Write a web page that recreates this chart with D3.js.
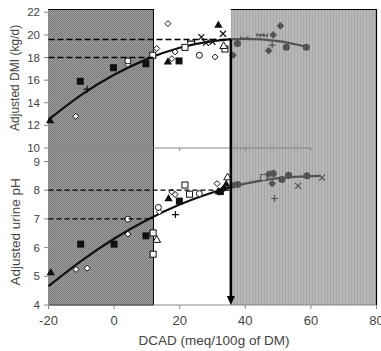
<!DOCTYPE html>
<html><head><meta charset="utf-8">
<script src="https://cdn.jsdelivr.net/npm/d3@7"></script>
<style>body{margin:0;background:#fff}svg{display:block;font-family:"Liberation Sans",Arial,sans-serif}</style>
</head><body><svg id="c" width="381" height="351"></svg>
<script>
// ---------- data ----------
const xTicks = [-20, 0, 20, 40, 60, 80];
const dmiTicks = [10, 12, 14, 16, 18, 20, 22];
const phTicks = [4, 5, 6, 7, 8, 9];
const xTopTicks = [0, 20, 40, 60];

// fitted curves
const dmiCurve = [[-20,12.5],[-10,14.69],[0,16.47],[10,17.86],[20,18.86],[30,19.45],[40,19.65],[50,19.45],[58,19.0]];
const phCurve = [[-20,4.66],[-10,5.54],[0,6.31],[10,6.96],[20,7.50],[30,7.92],[40,8.23],[50,8.42],[63,8.5]];

// reference levels
const dmiLevels = [[19.6, 35.6],[18.0, 12]];
const phLevels = [[8.0, 35.6],[7.0, 12]];
const zoneLow = [-20, 12];
const zoneHigh = [35.6, 80];

// scatter: top panel (DCAD, DMI)
const dmiTriF = [[-19.5,12.4],[16.4,17.6],[31.8,20.85]];
const dmiDiaO = [[-11.7,12.8],[4.2,17.4],[16.4,21.0],[17.6,17.9],[13.0,18.8],[18.6,18.5],[30.8,18.05]];
const dmiSqF = [[-10.3,15.9],[-0.2,17.1],[9.7,17.45],[19.8,17.7]];
const dmiPlus = [[-8.2,15.2],[48.2,19.1]];
const dmiCirO = [[4.2,17.7],[26,18.2]];
const dmiSqO = [[11.8,18.2],[21.6,18.9],[33.8,18.75]];
const dmiCross = [[26.6,19.8],[33.2,20.1],[28,19.3],[30,19.4]];
const dmiTriO = [[33.4,19.0]];
const dmiDash = [[39.7,19.7],[44.6,20.0],[45.6,19.95],[23.5,19.45]];
const dmiDiaF = [[48.5,20.0],[50.7,20.8],[47.1,18.6],[36.3,18.2]];
const dmiCirF = [[37.6,19.25],[52.5,18.9],[58.6,18.9]];

// scatter: bottom panel (DCAD, pH)
const phTriF = [[-19.3,5.12],[16.6,7.7],[31.9,7.94],[34.2,8.2]];
const phDiaO = [[-11.6,5.24],[-8.2,5.28],[4.2,6.47],[13.8,7.25],[17.6,7.94],[18.6,7.85],[31.4,8.23]];
const phSqF = [[-10.2,6.12],[0,6.12],[9.7,6.41],[19.9,7.62],[32.4,7.95]];
const phCirO = [[4.2,6.99],[13.5,7.4],[26,7.88]];
const phSqO = [[11.9,6.51],[11.9,5.77],[21.6,8.18],[23,7.86],[45.6,8.44]];
const phTriO = [[13.0,6.26],[34.6,8.44]];
const phPlus = [[18.7,7.15],[48.9,7.71]];
const phDiaF = [[36.4,8.17],[47.1,8.56],[48.2,8.23],[33.4,8.06]];
const phCirF = [[37.7,8.2],[48.5,8.58],[51.2,8.37],[53.2,8.52],[58.8,8.5]];
const phCross = [[56.1,8.15],[63.4,8.44]];

// ---------- drawing ----------
const svg = d3.select("#c");
const x = d3.scaleLinear().domain([-20, 80]).range([48.5, 376.5]);
const yT = d3.scaleLinear().domain([10, 22]).range([148, 12.3]);
const yB = d3.scaleLinear().domain([4, 9]).range([305, 161.5]);
const boxTop = 9.5, boxBot = 305;

const defs = svg.append("defs");
const pL = defs.append("pattern").attr("id","pl").attr("width",2).attr("height",2).attr("patternUnits","userSpaceOnUse");
pL.append("rect").attr("width",2).attr("height",2).attr("fill","#9a9a9a");
pL.append("rect").attr("width",1).attr("height",1).attr("fill","#7e7e7e");
pL.append("rect").attr("x",1).attr("y",1).attr("width",1).attr("height",1).attr("fill","#7e7e7e");
const pR = defs.append("pattern").attr("id","pr").attr("width",3).attr("height",3).attr("patternUnits","userSpaceOnUse");
pR.append("rect").attr("width",3).attr("height",3).attr("fill","#878787");
pR.append("rect").attr("width",1).attr("height",3).attr("fill","#6c6c6c");

// low zone box (under data)
svg.append("rect").attr("x", x(zoneLow[0])).attr("y", boxTop)
  .attr("width", x(zoneLow[1]) - x(zoneLow[0])).attr("height", boxBot - boxTop)
  .attr("fill","url(#pl)").attr("stroke","#000").attr("stroke-width",1);

// axes
const axCol = "#888", txtCol = "#444";
const gY = svg.append("g");
gY.append("line").attr("x1",48.5).attr("x2",48.5).attr("y1",boxTop).attr("y2",305).attr("stroke",axCol);
function yTicks(scale, ticks){
  ticks.forEach(t=>{
    gY.append("line").attr("x1",44).attr("x2",48.5).attr("y1",scale(t)).attr("y2",scale(t)).attr("stroke",axCol);
    gY.append("text").attr("x",40).attr("y",scale(t)).attr("dy","0.35em").attr("text-anchor","end")
      .attr("font-size",11.5).attr("fill",txtCol).text(t);
  });
}
yTicks(yT, dmiTicks); yTicks(yB, phTicks);

// top panel x-axis line at DMI=10
svg.append("line").attr("x1",48.5).attr("x2",x(60)).attr("y1",yT(10)).attr("y2",yT(10)).attr("stroke",axCol);
xTopTicks.forEach(t=> svg.append("line").attr("x1",x(t)).attr("x2",x(t)).attr("y1",yT(10)).attr("y2",yT(10)+3).attr("stroke",axCol));

// bottom x-axis
svg.append("line").attr("x1",48.5).attr("x2",376.5).attr("y1",305).attr("y2",305).attr("stroke",axCol);
xTicks.forEach(t=>{
  svg.append("line").attr("x1",x(t)).attr("x2",x(t)).attr("y1",305).attr("y2",309).attr("stroke",axCol);
  svg.append("text").attr("x",x(t)).attr("y",325).attr("text-anchor","middle").attr("font-size",13).attr("fill",txtCol).text(t);
});

// curves
const lineT = d3.line().x(d=>x(d[0])).y(d=>yT(d[1])).curve(d3.curveNatural);
const lineB = d3.line().x(d=>x(d[0])).y(d=>yB(d[1])).curve(d3.curveNatural);
svg.append("path").attr("d", lineT(dmiCurve)).attr("fill","none").attr("stroke","#111").attr("stroke-width",2.2);
svg.append("path").attr("d", lineB(phCurve)).attr("fill","none").attr("stroke","#111").attr("stroke-width",2.2);

// markers
function mark(data, yS, type){
  const g = svg.append("g");
  data.forEach(d=>{
    const cx = x(d[0]), cy = yS(d[1]);
    let el;
    switch(type){
      case "triF": el = g.append("path").attr("d", d3.symbol(d3.symbolTriangle, 30)()).attr("fill","#111"); break;
      case "triO": el = g.append("path").attr("d", d3.symbol(d3.symbolTriangle, 26)()).attr("fill","#fff").attr("stroke","#111"); break;
      case "sqF": el = g.append("rect").attr("x",-3.5).attr("y",-3.5).attr("width",7).attr("height",7).attr("fill","#111"); break;
      case "sqO": el = g.append("rect").attr("x",-3).attr("y",-3).attr("width",6).attr("height",6).attr("fill","#fff").attr("stroke","#111"); break;
      case "diaO": el = g.append("path").attr("d","M0,-3L3,0L0,3L-3,0Z").attr("fill","#fff").attr("stroke","#111"); break;
      case "diaF": el = g.append("path").attr("d","M0,-3.8L3.8,0L0,3.8L-3.8,0Z").attr("fill","#111"); break;
      case "cirO": el = g.append("circle").attr("r",3).attr("fill","#fff").attr("stroke","#111"); break;
      case "cirF": el = g.append("circle").attr("r",3.5).attr("fill","#111"); break;
      case "plus": el = g.append("path").attr("d","M-3.5,0H3.5M0,-3.5V3.5").attr("stroke","#111").attr("stroke-width",1.2); break;
      case "cross": el = g.append("path").attr("d","M-3,-3L3,3M-3,3L3,-3").attr("stroke","#111").attr("stroke-width",1.2); break;
      case "dash": el = g.append("path").attr("d","M-3.5,0H3.5M-3.5,-2V2M3.5,-2V2").attr("stroke","#111").attr("stroke-width",1.2); break;
    }
    el.attr("transform",`translate(${cx},${cy})`);
  });
}
mark(dmiDiaO,yT,"diaO"); mark(dmiCirO,yT,"cirO"); mark(dmiSqO,yT,"sqO"); mark(dmiTriO,yT,"triO");
mark(dmiTriF,yT,"triF"); mark(dmiSqF,yT,"sqF"); mark(dmiPlus,yT,"plus"); mark(dmiCross,yT,"cross");
mark(dmiDash,yT,"dash"); mark(dmiDiaF,yT,"diaF"); mark(dmiCirF,yT,"cirF");
mark(phDiaO,yB,"diaO"); mark(phCirO,yB,"cirO"); mark(phSqO,yB,"sqO"); mark(phTriO,yB,"triO");
mark(phTriF,yB,"triF"); mark(phSqF,yB,"sqF"); mark(phPlus,yB,"plus"); mark(phCross,yB,"cross");
mark(phDiaF,yB,"diaF"); mark(phCirF,yB,"cirF");

// high zone box (semi-transparent over data)
svg.append("rect").attr("x", x(zoneHigh[0])).attr("y", boxTop)
  .attr("width", x(zoneHigh[1]) - x(zoneHigh[0])).attr("height", boxBot - boxTop)
  .attr("fill","url(#pr)").attr("fill-opacity",0.6);
svg.append("path").attr("d",`M${x(zoneHigh[0])},${boxTop}H${x(zoneHigh[1])}V${boxBot}`)
  .attr("fill","none").attr("stroke","#000").attr("stroke-width",1.2);

// dashed reference lines
dmiLevels.forEach(l=> svg.append("line").attr("x1",48.5).attr("x2",x(l[1])).attr("y1",yT(l[0])).attr("y2",yT(l[0]))
  .attr("stroke","#000").attr("stroke-width",1.6).attr("stroke-dasharray","6,3"));
phLevels.forEach(l=> svg.append("line").attr("x1",48.5).attr("x2",x(l[1])).attr("y1",yB(l[0])).attr("y2",yB(l[0]))
  .attr("stroke","#000").attr("stroke-width",1.3).attr("stroke-dasharray","5,3"));

// vertical arrow
const ax = x(zoneHigh[0]);
svg.append("line").attr("x1",ax).attr("x2",ax).attr("y1",yT(dmiLevels[0][0])).attr("y2",297).attr("stroke","#000").attr("stroke-width",2.6);
svg.append("path").attr("d",`M${ax-4},296L${ax+4},296L${ax},305Z`).attr("fill","#000");

// axis titles
svg.append("text").attr("transform",`translate(19,${yT(16.2)}) rotate(-90)`).attr("text-anchor","middle")
  .attr("font-size",12).attr("fill",txtCol).text("Adjusted DMI (kg/d)");
svg.append("text").attr("transform",`translate(20,${yB(6.55)}) rotate(-90)`).attr("text-anchor","middle")
  .attr("font-size",13.5).attr("fill",txtCol).text("Adjusted urine pH");
svg.append("text").attr("x",214).attr("y",345).attr("text-anchor","middle")
  .attr("font-size",13.5).attr("fill",txtCol).text("DCAD (meq/100g of DM)");
</script></body></html>
